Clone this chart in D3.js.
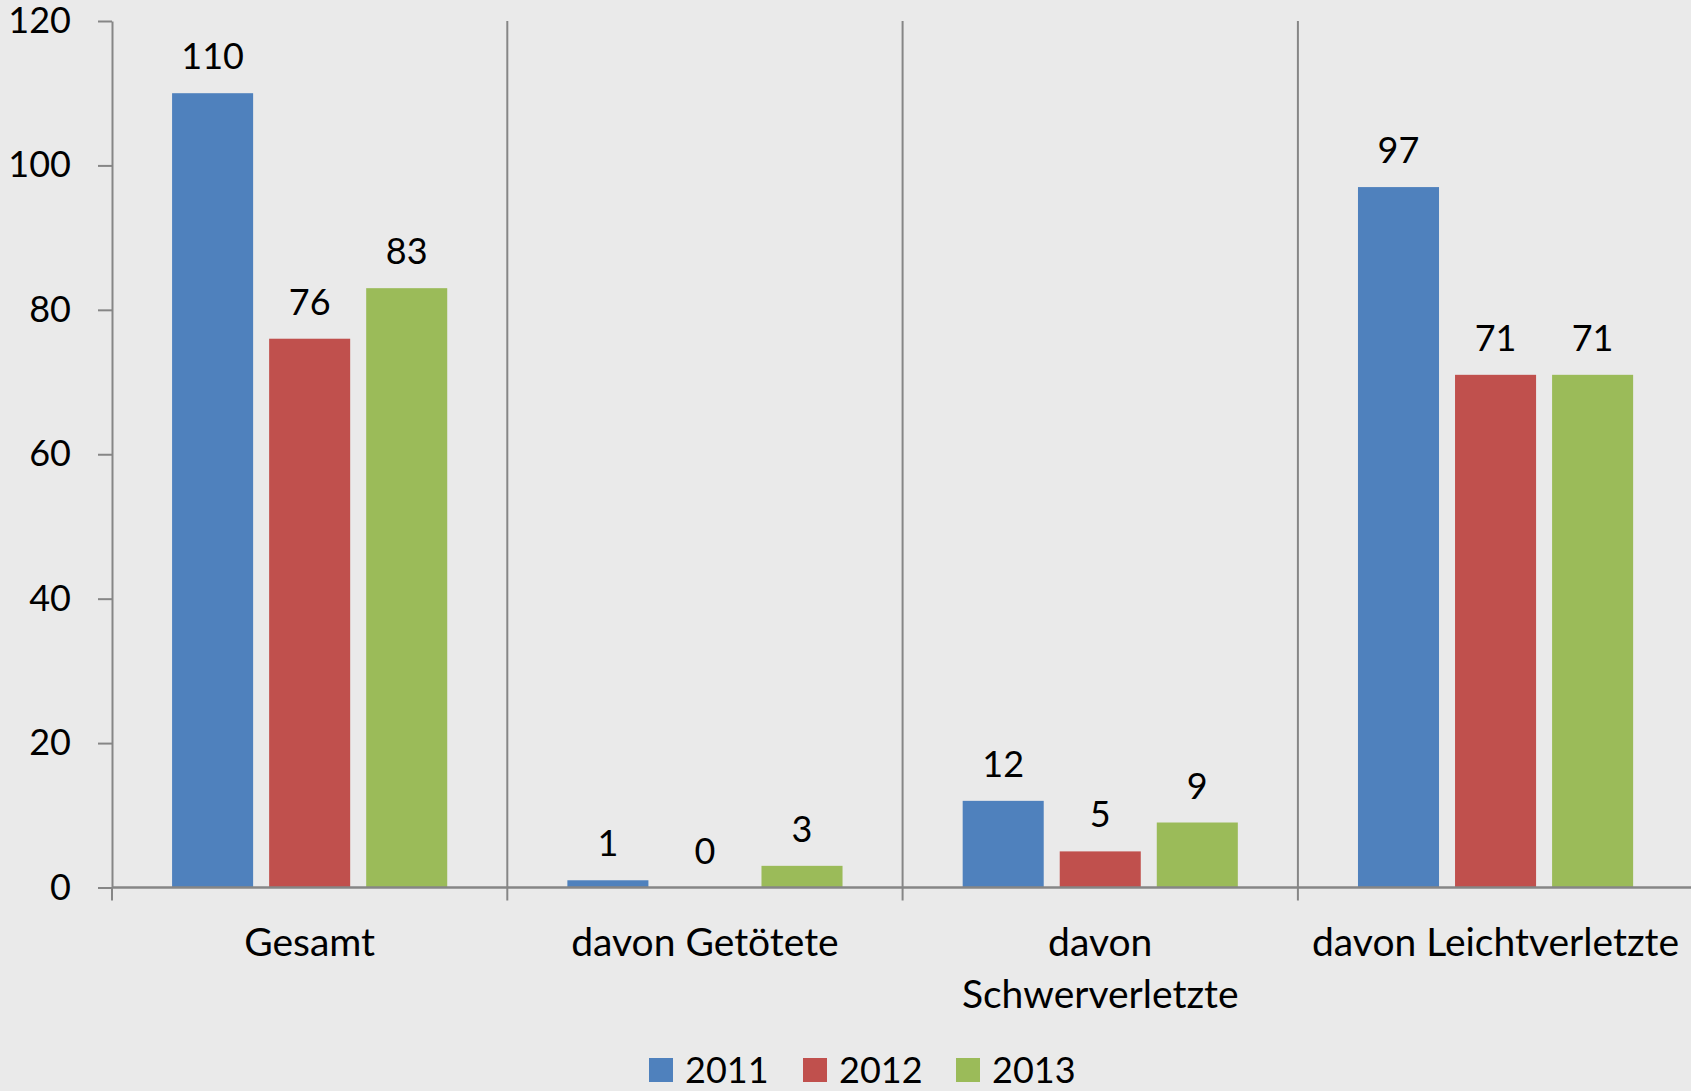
<!DOCTYPE html>
<html>
<head>
<meta charset="utf-8">
<script src="https://cdn.jsdelivr.net/npm/d3@7/dist/d3.min.js"></script>
<style>
  html, body { margin: 0; padding: 0; background: #EAEAEA; overflow: hidden; }
  svg { display: block; }
  text { font-family: Lato, "Noto Sans", sans-serif; fill: #000; }
</style>
</head>
<body>
<svg id="chart" width="1691" height="1091"></svg>
<script>
const categories = ["Gesamt", "davon Getötete", "davon Schwerverletzte", "davon Leichtverletzte"];
const categoryLabelLines = [["Gesamt"], ["davon Getötete"], ["davon", "Schwerverletzte"], ["davon Leichtverletzte"]];
const series = ["2011", "2012", "2013"];
const values2011 = [110, 1, 12, 97];
const values2012 = [76, 0, 5, 71];
const values2013 = [83, 3, 9, 71];
const seriesColors = ["#4F81BD", "#C0504D", "#9BBB59"];
const yTicks = [0, 20, 40, 60, 80, 100, 120];

(function () {
const allValues = [values2011, values2012, values2013];
const svg = d3.select("#chart");
const W = 1691, H = 1091;
const mLeft = 112, mTop = 21, mBottom = 887.5;
const catWidth = 395.3;
const axisColor = "#868686";
const fontSize = 36;
const catFontSize = 39;

svg.append("rect").attr("width", W).attr("height", H).attr("fill", "#EAEAEA");

const x = d3.scaleBand().domain(categories).range([mLeft, mLeft + catWidth * categories.length]).padding(0);
const xInner = d3.scaleBand().domain(series).range([0, x.bandwidth()]).paddingInner(16 / 97).paddingOuter(0.619);
const y = d3.scaleLinear().domain([0, 120]).range([mBottom, mTop]);

// Y axis
const yAxis = svg.append("g").attr("transform", `translate(${mLeft},0)`)
  .call(d3.axisLeft(y).tickValues(yTicks).tickSize(14).tickPadding(27).tickSizeOuter(0));
yAxis.select(".domain").attr("stroke", axisColor).attr("stroke-width", 2);
yAxis.selectAll(".tick line").attr("stroke", axisColor).attr("stroke-width", 2);
yAxis.selectAll(".tick text").attr("font-size", fontSize).attr("font-family", "Lato, 'Noto Sans', sans-serif").attr("fill", "#000");

// Category dividers and bottom ticks
const boundaries = categories.map(c => x(c)).concat([x(categories[categories.length - 1]) + x.bandwidth()]);
svg.selectAll(".divider").data(boundaries.slice(1)).join("line")
  .attr("x1", d => d).attr("x2", d => d)
  .attr("y1", mTop).attr("y2", mBottom + 13)
  .attr("stroke", axisColor).attr("stroke-width", 2);
svg.append("line").attr("x1", mLeft).attr("x2", mLeft).attr("y1", mBottom).attr("y2", mBottom + 13)
  .attr("stroke", axisColor).attr("stroke-width", 2);

// Bars
const groups = svg.selectAll(".cat").data(categories).join("g")
  .attr("transform", d => `translate(${x(d)},0)`);
series.forEach((s, si) => {
  groups.append("rect")
    .attr("x", xInner(s))
    .attr("width", xInner.bandwidth())
    .attr("y", (d, i) => y(allValues[si][i]))
    .attr("height", (d, i) => mBottom - y(allValues[si][i]))
    .attr("fill", seriesColors[si]);
  groups.append("text")
    .attr("x", xInner(s) + xInner.bandwidth() / 2)
    .attr("y", (d, i) => y(allValues[si][i]) - 24)
    .attr("text-anchor", "middle")
    .attr("font-size", fontSize)
    .text((d, i) => allValues[si][i]);
});

// X axis line
svg.append("line").attr("x1", mLeft).attr("x2", W + 5).attr("y1", mBottom).attr("y2", mBottom)
  .attr("stroke", axisColor).attr("stroke-width", 2.5);

// Category labels
categories.forEach((c, i) => {
  const t = svg.append("text")
    .attr("x", x(c) + x.bandwidth() / 2)
    .attr("y", 956)
    .attr("text-anchor", "middle")
    .attr("font-size", catFontSize);
  categoryLabelLines[i].forEach((line, li) => {
    t.append("tspan").attr("x", x(c) + x.bandwidth() / 2).attr("y", 956 + li * 52).text(line);
  });
});

// Legend
const legendX = [649, 803, 956];
const legend = svg.selectAll(".leg").data(series).join("g")
  .attr("transform", (d, i) => `translate(${legendX[i]},1058)`);
legend.append("rect").attr("width", 24).attr("height", 24).attr("fill", (d, i) => seriesColors[i]);
legend.append("text").attr("x", 36).attr("y", 25).attr("font-size", fontSize).text(d => d);
})();
</script>
</body>
</html>
